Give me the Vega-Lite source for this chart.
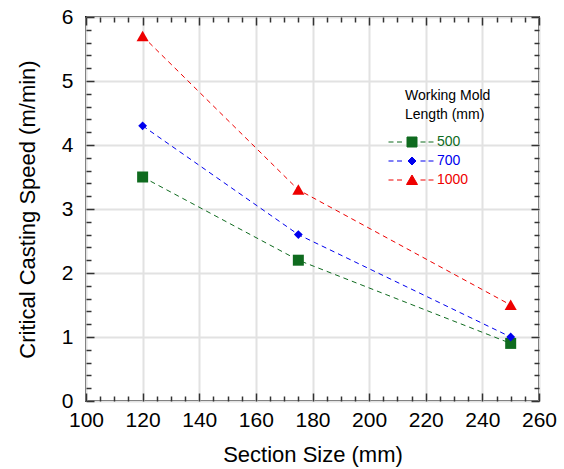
{
  "$schema": "https://vega.github.io/schema/vega-lite/v6.json",
  "width": 453,
  "height": 384,
  "autosize": "none",
  "padding": {"left": 86, "top": 17, "right": 25, "bottom": 68},
  "background": "white",
  "config": {
    "font": "Liberation Sans",
    "view": {"stroke": "#222222", "strokeWidth": 2},
    "axis": {
      "labelColor": "black",
      "titleColor": "black",
      "tickColor": "#333333",
      "tickWidth": 1.5,
      "labelFlush": false,
      "labelOverlap": false,
      "labelBound": false,
      "domain": false
    }
  },
  "data": {
    "values": [
      {"section": 120, "speed": 3.5, "mold": "500"},
      {"section": 175, "speed": 2.2, "mold": "500"},
      {"section": 250, "speed": 0.9, "mold": "500"},
      {"section": 120, "speed": 4.3, "mold": "700"},
      {"section": 175, "speed": 2.6, "mold": "700"},
      {"section": 250, "speed": 1.0, "mold": "700"},
      {"section": 120, "speed": 5.7, "mold": "1000"},
      {"section": 175, "speed": 3.3, "mold": "1000"},
      {"section": 250, "speed": 1.5, "mold": "1000"}
    ]
  },
  "layer": [
    {
      "mark": {"type": "line", "strokeDash": [5, 4], "strokeWidth": 1},
      "encoding": {
        "x": {
          "field": "section", "type": "quantitative",
          "scale": {"domain": [100, 260], "nice": false, "zero": false},
          "axis": {
            "orient": "bottom", "values": [100, 120, 140, 160, 180, 200, 220, 240, 260],
            "title": "Section Size (mm)", "titleFontSize": 22, "titleFontWeight": "normal", "titlePadding": 14,
            "labelFontSize": 21, "labelPadding": 8, "ticks": false,
            "grid": true, "gridColor": "#e2e2e2", "gridWidth": 2
          }
        },
        "y": {
          "field": "speed", "type": "quantitative",
          "scale": {"domain": [0, 6], "nice": false},
          "axis": {
            "orient": "left", "values": [0, 1, 2, 3, 4, 5, 6],
            "title": "Critical Casting Speed (m/min)", "titleFontSize": 22, "titleFontWeight": "normal", "titlePadding": 22,
            "labelFontSize": 21, "labelPadding": 13, "ticks": false,
            "grid": true, "gridColor": "#e2e2e2", "gridWidth": 2
          }
        },
        "color": {
          "field": "mold", "type": "nominal",
          "scale": {"domain": ["500", "700", "1000"], "range": ["#0f6b1f", "#0000ee", "#ee0000"]},
          "legend": null
        }
      }
    },
    {
      "mark": {"type": "point", "filled": true, "size": 121, "opacity": 1},
      "encoding": {
        "x": {
          "field": "section", "type": "quantitative",
          "axis": {"orient": "bottom", "values": [100, 120, 140, 160, 180, 200, 220, 240, 260], "title": null, "labels": false, "grid": false, "tickSize": -8}
        },
        "y": {
          "field": "speed", "type": "quantitative",
          "axis": {"orient": "left", "values": [0, 1, 2, 3, 4, 5, 6], "title": null, "labels": false, "grid": false, "tickSize": -8}
        },
        "color": {"field": "mold", "type": "nominal", "legend": null},
        "shape": {
          "field": "mold", "type": "nominal",
          "scale": {"domain": ["500", "700", "1000"], "range": ["M-1,-1H1V1H-1Z", "M0,-0.8L0.8,0L0,0.8L-0.8,0Z", "M0,-1L1.1,0.9H-1.1Z"]},
          "legend": null
        }
      }
    },
    {
      "transform": [{"filter": "false"}],
      "mark": {"type": "point", "filled": true, "size": 100, "strokeWidth": 1, "opacity": 1},
      "encoding": {
        "x": {
          "field": "section", "type": "quantitative",
          "axis": {"orient": "bottom", "values": [105, 110, 115, 125, 130, 135, 145, 150, 155, 165, 170, 175, 185, 190, 195, 205, 210, 215, 225, 230, 235, 245, 250, 255], "title": null, "labels": false, "grid": false, "tickSize": -5}
        },
        "y": {
          "field": "speed", "type": "quantitative",
          "axis": {"orient": "left", "values": [0.2, 0.4, 0.6, 0.8, 1.2, 1.4, 1.6, 1.8, 2.2, 2.4, 2.6, 2.8, 3.2, 3.4, 3.6, 3.8, 4.2, 4.4, 4.6, 4.8, 5.2, 5.4, 5.6, 5.8], "title": null, "labels": false, "grid": false, "tickSize": -5}
        },
        "color": {
          "field": "mold", "type": "nominal",
          "legend": {
            "orient": "none", "legendX": 319, "legendY": 72,
            "title": ["Working Mold", "Length (mm)"], "titleFontSize": 14, "titleFontWeight": "normal", "titleColor": "black",
            "titleLineHeight": 19, "titlePadding": 13,
            "labelFontSize": 14, "labelOffset": 18, "rowPadding": 5, "symbolSize": 100, "symbolStrokeWidth": 1, "symbolOpacity": 1,
            "labelColor": {"expr": "datum.value === '500' ? '#0f6b1f' : datum.value === '700' ? '#0000ee' : '#ee0000'"}
          }
        },
        "stroke": {
          "field": "mold", "type": "nominal",
          "scale": {"domain": ["500", "700", "1000"], "range": ["#0f6b1f", "#0000ee", "#ee0000"]},
          "legend": {
            "orient": "none", "legendX": 319, "legendY": 72,
            "title": ["Working Mold", "Length (mm)"], "titleFontSize": 14, "titleFontWeight": "normal", "titleColor": "black",
            "titleLineHeight": 19, "titlePadding": 13,
            "labelFontSize": 14, "labelOffset": 18, "rowPadding": 5, "symbolSize": 100, "symbolStrokeWidth": 1, "symbolOpacity": 1,
            "labelColor": {"expr": "datum.value === '500' ? '#0f6b1f' : datum.value === '700' ? '#0000ee' : '#ee0000'"}
          }
        },
        "shape": {
          "field": "mold", "type": "nominal",
          "scale": {"domain": ["500", "700", "1000"], "range": [
            "M-4.7,0H-3.7M-3,0H-2M-1,-1H1V1H-1ZM1.7,0H2.7M3.3,0H4.3",
            "M-4.7,0H-3.7M-3,0H-2M0,-0.8L0.8,0L0,0.8L-0.8,0ZM1.7,0H2.7M3.3,0H4.3",
            "M-4.7,0H-3.7M-3,0H-2M0,-1L1.1,0.9H-1.1ZM1.7,0H2.7M3.3,0H4.3"
          ]},
          "legend": {
            "orient": "none", "legendX": 319, "legendY": 72,
            "title": ["Working Mold", "Length (mm)"], "titleFontSize": 14, "titleFontWeight": "normal", "titleColor": "black",
            "titleLineHeight": 19, "titlePadding": 13,
            "labelFontSize": 14, "labelOffset": 18, "rowPadding": 5, "symbolSize": 100, "symbolStrokeWidth": 1, "symbolOpacity": 1,
            "labelColor": {"expr": "datum.value === '500' ? '#0f6b1f' : datum.value === '700' ? '#0000ee' : '#ee0000'"}
          }
        }
      }
    },
    {
      "mark": {"type": "point", "opacity": 0},
      "encoding": {
        "x": {
          "field": "section", "type": "quantitative",
          "axis": {"orient": "top", "values": [100, 120, 140, 160, 180, 200, 220, 240, 260], "title": null, "labels": false, "grid": false, "tickSize": -8}
        },
        "y": {
          "field": "speed", "type": "quantitative",
          "axis": {"orient": "right", "values": [0, 1, 2, 3, 4, 5, 6], "title": null, "labels": false, "grid": false, "tickSize": -8}
        }
      }
    },
    {
      "mark": {"type": "point", "opacity": 0},
      "encoding": {
        "x": {
          "field": "section", "type": "quantitative",
          "axis": {"orient": "top", "values": [105, 110, 115, 125, 130, 135, 145, 150, 155, 165, 170, 175, 185, 190, 195, 205, 210, 215, 225, 230, 235, 245, 250, 255], "title": null, "labels": false, "grid": false, "tickSize": -5}
        },
        "y": {
          "field": "speed", "type": "quantitative",
          "axis": {"orient": "right", "values": [0.2, 0.4, 0.6, 0.8, 1.2, 1.4, 1.6, 1.8, 2.2, 2.4, 2.6, 2.8, 3.2, 3.4, 3.6, 3.8, 4.2, 4.4, 4.6, 4.8, 5.2, 5.4, 5.6, 5.8], "title": null, "labels": false, "grid": false, "tickSize": -5}
        }
      }
    }
  ],
  "resolve": {
    "axis": {"x": "independent", "y": "independent"},
    "scale": {"shape": "independent"},
    "legend": {"color": "independent", "shape": "independent", "stroke": "independent"}
  }
}
